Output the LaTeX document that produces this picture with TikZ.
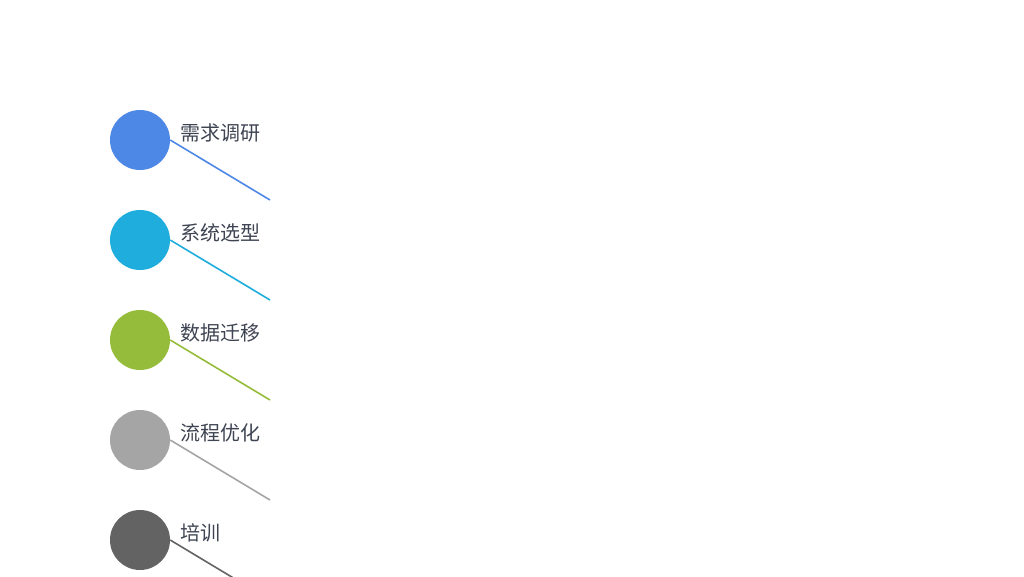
\documentclass[tikz,border=0pt]{standalone}
\usepackage{fontspec}
\newfontfamily\cjk{Noto Sans CJK SC}
\definecolor{cA}{HTML}{4E88E7}
\definecolor{cB}{HTML}{1EADDC}
\definecolor{cC}{HTML}{95BC3A}
\definecolor{cD}{HTML}{A5A5A5}
\definecolor{cE}{HTML}{636363}
\definecolor{txt}{HTML}{3E4452}
\tikzset{
  dot/.style={circle,fill=#1,minimum size=60pt,inner sep=0pt},
  lbl/.style={anchor=west,inner sep=0pt,text=txt,font=\cjk\fontsize{20pt}{24pt}\selectfont},
  conn/.style={draw=#1,line width=1.6pt}
}
\begin{document}
\begin{tikzpicture}[x=1pt,y=-1pt]
\useasboundingbox[fill=white] (0,0) rectangle (1024,576);
\begin{scope}
\clip (0,0) rectangle (1024,576);
\foreach \i/\c/\t [count=\k] in {0/cA/需求调研,1/cB/系统选型,2/cC/数据迁移,3/cD/流程优化,4/cE/培训}{
  \node[dot=\c] (d\k) at (140,140+100*\i) {};
  \node[lbl] (t\k) at (180,133+100*\i) {\t};
  \coordinate (e\k) at (270,200+100*\i);
  \draw[conn=\c] (d\k.east) -- (e\k);
}
\end{scope}
\end{tikzpicture}
\end{document}
